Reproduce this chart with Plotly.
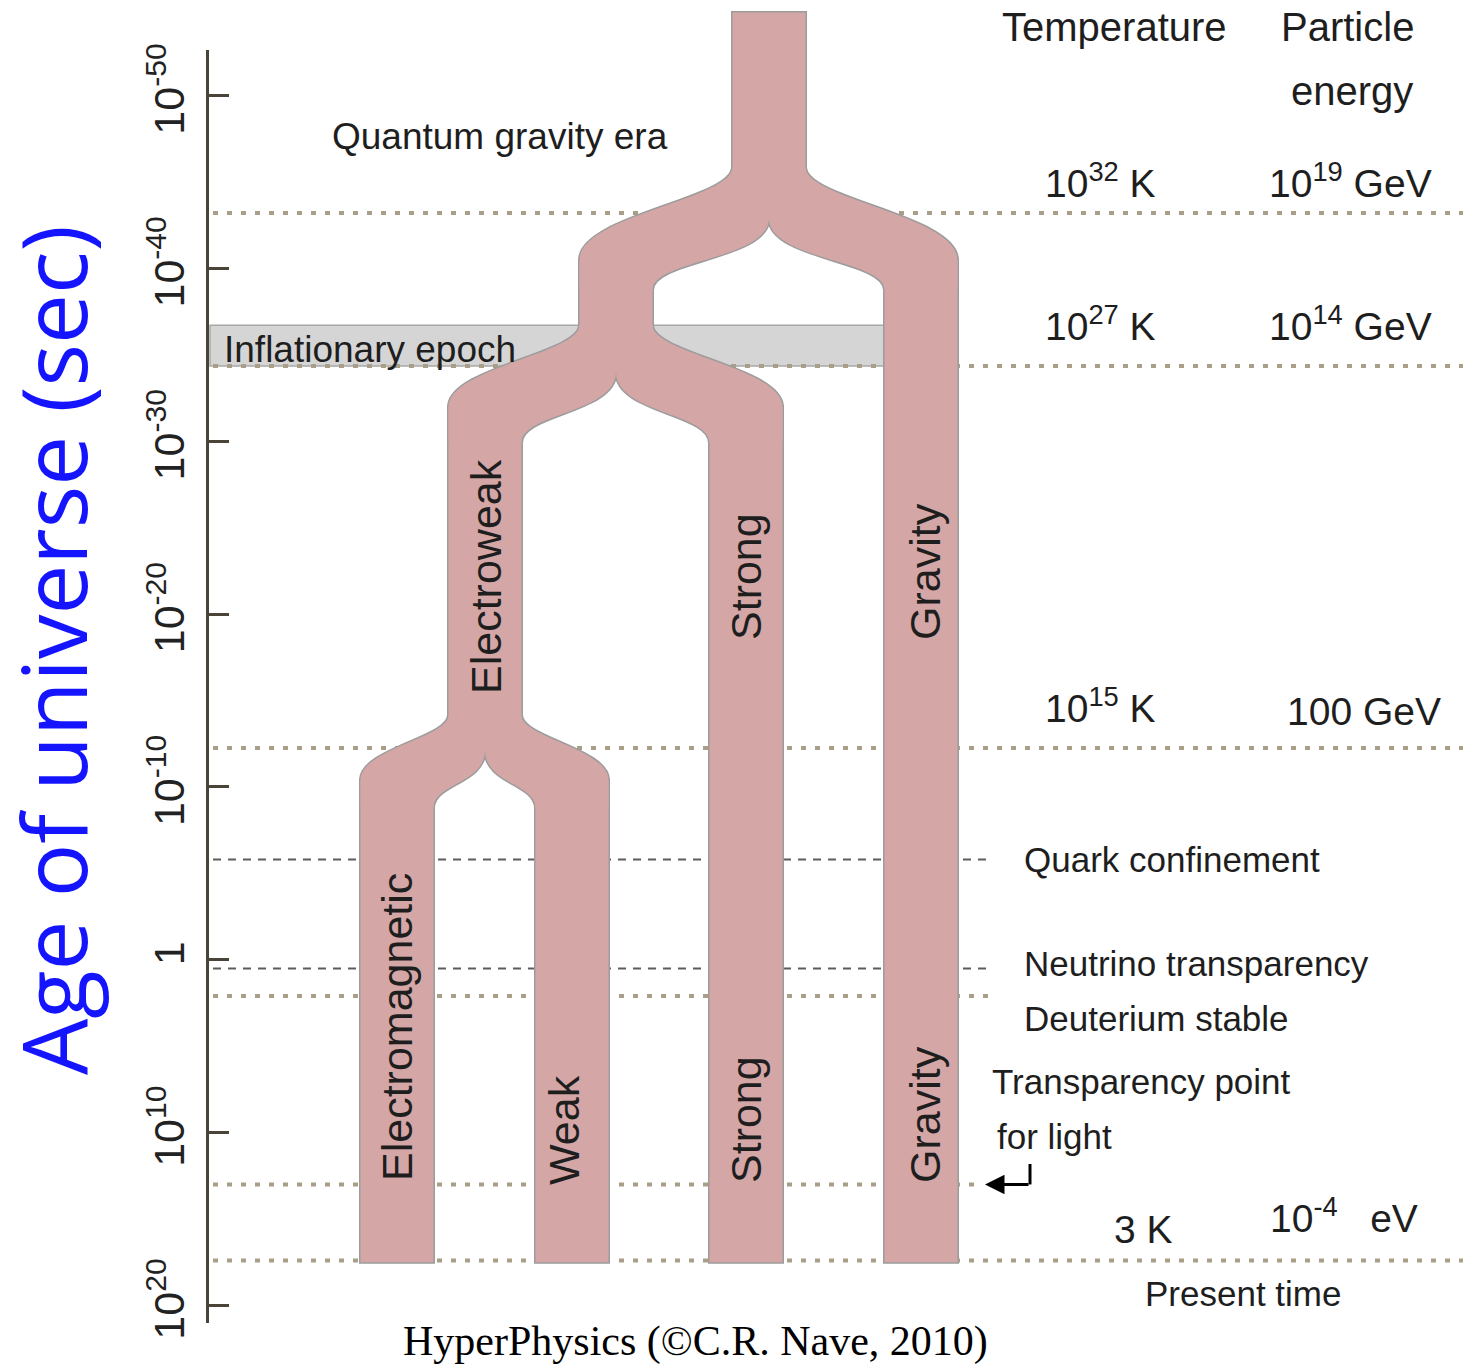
import plotly.graph_objects as go

W, H = 1463, 1367

# ---------------- data (times are log10 of the age of the universe in seconds) ----------------
era_labels = ["Planck time", "End of inflation", "Electroweak breaking", "Quark confinement",
              "Neutrino transparency", "Deuterium stable", "Transparency point for light", "Present time"]
era_log_t = [-43.2, -34.35, -12.25, -5.8, 0.5, 2.1, 13.0, 17.4]

inflation_log_t = [-36.7, -34.35]

force_names = ["Unified", "GUT", "Gravity", "Electroweak", "Strong", "Electromagnetic", "Weak"]
split_parent = ["Unified", "GUT", "Electroweak"]
split_left = ["GUT", "Electroweak", "Electromagnetic"]
split_right = ["Gravity", "Strong", "Weak"]
split_begin_t = [-45.86, -36.72, -14.16]   # parent starts to divide
split_cusp_t = [-42.9, -34.0, -12.13]      # notch between the two children
split_outer_t = [-40.48, -31.98, -10.4]    # outer edges of the children straight again
split_inner_t = [-38.75, -29.9, -8.78]     # inner edges of the children straight again
origin_t = -54.8
present_t = 17.5

axis_tick_t = [-50, -40, -30, -20, -10, 0, 10, 20]
axis_tick_text = ["10<sup>-50</sup>", "10<sup>-40</sup>", "10<sup>-30</sup>", "10<sup>-20</sup>",
                  "10<sup>-10</sup>", "1", "10<sup>10</sup>", "10<sup>20</sup>"]

temperature_text = ["10<sup>32</sup> K", "10<sup>27</sup> K", "10<sup>15</sup> K", "3 K"]
energy_text = ["10<sup>19</sup> GeV", "10<sup>14</sup> GeV", "100 GeV", "10<sup>-4</sup>&nbsp;&nbsp;&nbsp;eV"]

# ---------------- layout helpers ----------------
def tv(ypx):
    """page pixel row -> log10(t) on the vertical scale"""
    return -15 + (ypx - 700.45) / 17.286

col_x = {"Unified": 769, "GUT": 616, "Gravity": 921, "Electroweak": 485,
         "Strong": 746, "Electromagnetic": 397, "Weak": 572}
HW = 36.5

PINK = "#d4a6a6"
EDGE = "#9c9c9c"
SANS = "Liberation Sans, Arial, sans-serif"
TXT = "#1e1e1e"

shapes = []

# inflationary band
shapes.append(dict(type="rect", xref="x", yref="y", x0=210, x1=col_x["Gravity"],
                   y0=inflation_log_t[0], y1=inflation_log_t[1],
                   fillcolor="#d5d5d5", line=dict(color="#a8a8a8", width=1.5)))

# era lines
line_end = [W, W, W, 992, 992, 992, 975, W]
line_kind = ["dot", "dot", "dot", "dash", "dash", "dot", "dot", "dot"]
for t, xe, k in zip(era_log_t, line_end, line_kind):
    if k == "dot":
        ln = dict(color="#a99e88", width=4, dash="5px,9px")
    else:
        ln = dict(color="#5c5c5c", width=2, dash="8px,7px")
    shapes.append(dict(type="line", xref="x", yref="y", x0=213, x1=xe, y0=t, y1=t, line=ln))


def junction(p, cl, cr, tb, tc, to, ti):
    xpL, xpR = p - HW, p + HW
    cLo, cLi = cl - HW, cl + HW
    cRi, cRo = cr - HW, cr + HW
    h = to - tb
    hi = ti - tc
    m = tc + 0.58 * hi
    return (f"M{xpL},{tb} C{xpL},{tb + 0.35 * h} {cLo},{tb + 0.52 * h} {cLo},{to} "
            f"L{cLo},{ti} L{cLi},{ti} C{cLi},{m} {p},{m} {p},{tc} "
            f"C{p},{m} {cRi},{m} {cRi},{ti} L{cRo},{ti} L{cRo},{to} "
            f"C{cRo},{tb + 0.52 * h} {xpR},{tb + 0.35 * h} {xpR},{tb} Z")


pieces = []
# straight stretches of each force (overlapping the junctions a little to hide seams)
for f in force_names:
    if f in split_left:
        t0 = split_outer_t[split_left.index(f)]
    elif f in split_right:
        t0 = split_outer_t[split_right.index(f)]
    else:
        t0 = origin_t
    t1 = split_cusp_t[split_parent.index(f)] if f in split_parent else present_t
    pieces.append(("rect", (col_x[f] - HW, col_x[f] + HW, t0, t1)))
for i in range(len(split_parent)):
    pieces.append(("path", junction(col_x[split_parent[i]], col_x[split_left[i]], col_x[split_right[i]],
                                    split_begin_t[i], split_cusp_t[i], split_outer_t[i], split_inner_t[i])))

for fill, lw, lc in [(EDGE, 3, EDGE), (PINK, 0, PINK)]:
    for kind, g in pieces:
        if kind == "rect":
            shapes.append(dict(type="rect", xref="x", yref="y", x0=g[0], x1=g[1], y0=g[2], y1=g[3],
                               fillcolor=fill, line=dict(color=lc, width=lw)))
        else:
            shapes.append(dict(type="path", xref="x", yref="y", path=g,
                               fillcolor=fill, line=dict(color=lc, width=lw)))

# small vertical part of the light-transparency arrow
shapes.append(dict(type="line", xref="x", yref="y", x0=1030, x1=1030, y0=tv(1164), y1=era_log_t[6],
                   line=dict(color="black", width=3)))

annotations = []


def txt(text, x, y, size, xa="left", ya="middle", angle=0, family=SANS, color=TXT):
    annotations.append(dict(text=text, x=x / W, y=1 - y / H, xref="paper", yref="paper",
                            xanchor=xa, yanchor=ya, textangle=angle, showarrow=False,
                            font=dict(family=family, size=size, color=color)))


txt("Temperature", 1000, 27, 40)
txt("Particle", 1347, 27, 40, xa="center")
txt("energy", 1352, 91, 40, xa="center")
temp_pos = [(1043, 180), (1043, 323), (1043, 705), (1112, 1229)]
en_pos = [(1267, 180), (1267, 323), (1285, 711), (1268, 1215)]
for s, (x, y) in zip(temperature_text, temp_pos):
    txt(s, x, y, 39)
for s, (x, y) in zip(energy_text, en_pos):
    txt(s, x, y, 39)

txt("Quantum gravity era", 330, 137, 37)
txt("Inflationary epoch", 222, 349, 37)
txt("Quark confinement", 1022, 859, 35)
txt("Neutrino transparency", 1022, 963, 35)
txt("Deuterium stable", 1022, 1018, 35)
txt("Transparency point", 990, 1081, 35)
txt("for light", 995, 1136, 35)
txt("Present time", 1143, 1293, 35)

# rotated force labels
for s, x, y in [("Electroweak", 486, 577), ("Strong", 746, 577), ("Gravity", 925, 572),
                ("Electromagnetic", 397, 1027), ("Weak", 564, 1130), ("Strong", 746, 1120),
                ("Gravity", 925, 1115)]:
    txt(s, x, y, 43, xa="center", angle=-90)

txt("Age of universe (sec)", 52, 650, 89, xa="center", angle=-90, family="Open Sans", color="#1414ff")
txt("HyperPhysics (©C.R. Nave, 2010)", 695, 1341, 42, xa="center", family="Liberation Serif", color="black")

# arrow of the light-transparency point
annotations.append(dict(x=985, y=era_log_t[6], ax=1030, ay=era_log_t[6], xref="x", yref="y",
                        axref="x", ayref="y", text="", showarrow=True, arrowhead=2, arrowsize=1.3,
                        arrowwidth=3, arrowcolor="black"))

fig = go.Figure()
fig.add_trace(go.Scatter(x=[], y=[], xaxis="x", yaxis="y", showlegend=False))
fig.add_trace(go.Scatter(x=[], y=[], xaxis="x2", yaxis="y2", showlegend=False))

fig.update_layout(
    template="none",
    width=W, height=H, margin=dict(l=0, r=0, t=0, b=0, autoexpand=False),
    paper_bgcolor="white", plot_bgcolor="rgba(0,0,0,0)",
    showlegend=False,
    xaxis=dict(domain=[0, 1], range=[0, W], visible=False, fixedrange=True, automargin=False),
    yaxis=dict(domain=[0, 1], range=[tv(H), tv(0)], visible=False, fixedrange=True, automargin=False),
    xaxis2=dict(domain=[209 / W, 1], range=[0, 1], visible=False, anchor="y2", automargin=False),
    yaxis2=dict(domain=[(H - 1323) / H, (H - 50) / H], range=[tv(1323), tv(50)], anchor="x2",
                automargin=False,
                tickvals=axis_tick_t, ticktext=axis_tick_text, tickangle=-90,
                ticks="inside", ticklen=20, tickwidth=3, tickcolor="#4a4436",
                showline=True, linewidth=3, linecolor="#4a4436", showgrid=False, zeroline=False,
                ticklabelstandoff=5,
                tickfont=dict(family=SANS, size=43, color="#222222")),
    shapes=shapes, annotations=annotations,
)

fig.write_html("out.html", config={"displayModeBar": False, "staticPlot": True},
               post_script="document.body.style.margin='0px';document.body.style.overflow='hidden';")
